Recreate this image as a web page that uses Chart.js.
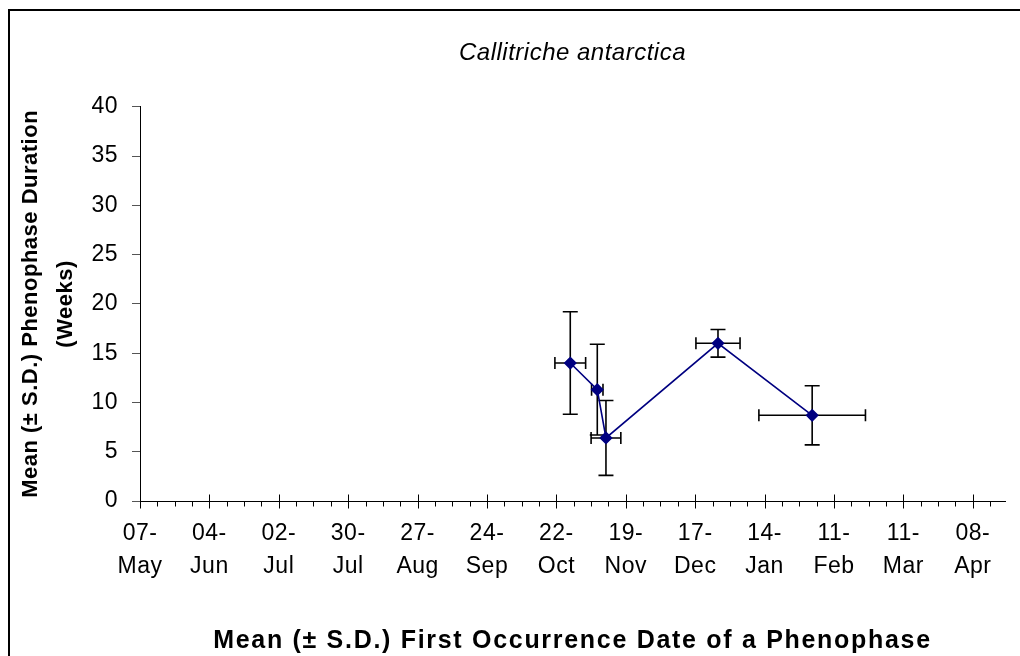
<!DOCTYPE html>
<html>
<head>
<meta charset="utf-8">
<script src="https://cdn.jsdelivr.net/npm/chart.js@4.4.1/dist/chart.umd.min.js"></script>
<style>
  html, body { margin: 0; padding: 0; background: #fff; }
</style>
</head>
<body>
<canvas id="myChart" width="1020" height="656"></canvas>
<script>
// x values are days after 07-May, y values are weeks
const tickDays = [0, 28, 56, 84, 112, 140, 168, 196, 224, 252, 280, 308, 336];
const tickLabels = [
  ['07-', 'May'], ['04-', 'Jun'], ['02-', 'Jul'], ['30-', 'Jul'], ['27-', 'Aug'],
  ['24-', 'Sep'], ['22-', 'Oct'], ['19-', 'Nov'], ['17-', 'Dec'], ['14-', 'Jan'],
  ['11-', 'Feb'], ['11-', 'Mar'], ['08-', 'Apr']
];
const meanDay = [173.6, 184.5, 188.0, 233.2, 271.2];
const sdDay = [6.2, 2.3, 6.0, 8.9, 21.5];
const meanWeeks = [14.0, 11.3, 6.4, 16.0, 8.7];
const sdWeeks = [5.2, 4.6, 3.8, 1.4, 3.0];

const FONT = "'Liberation Sans', Arial, sans-serif";

// white page with the frame line top and left
const frame = {
  id: 'frame',
  beforeDraw(chart) {
    const ctx = chart.ctx;
    ctx.save();
    ctx.fillStyle = '#fff';
    ctx.fillRect(0, 0, chart.width, chart.height);
    ctx.strokeStyle = '#000';
    ctx.lineWidth = 2;
    ctx.beginPath();
    ctx.moveTo(9, chart.height);
    ctx.lineTo(9, 10);
    ctx.lineTo(chart.width, 10);
    ctx.stroke();
    ctx.restore();
  }
};

// slight letter spacing; the x axis title (drawn after the datasets) gets more
const spacing = {
  id: 'spacing',
  beforeLayout(chart) { chart.ctx.letterSpacing = '0.5px'; },
  beforeDraw(chart) { chart.ctx.letterSpacing = '0.5px'; },
  afterDatasetsDraw(chart) { chart.ctx.letterSpacing = '1.7px'; },
  afterDraw(chart) { chart.ctx.letterSpacing = '0.5px'; }
};

// weekly tick marks on the date axis, long ones every 4 weeks
const weekTicks = {
  id: 'weekTicks',
  afterDraw(chart) {
    const {ctx, scales: {x, y}} = chart;
    const axisY = Math.round(y.getPixelForValue(0)) + 0.5;
    ctx.save();
    ctx.strokeStyle = '#000';
    ctx.lineWidth = 1;
    ctx.beginPath();
    tickDays.forEach(d => {
      [0, 7, 14, 21].forEach(k => {
        const v = d + k;
        if (v > x.max) return;
        const px = Math.round(x.getPixelForValue(v)) + 0.5;
        if (k === 0) {
          ctx.moveTo(px, axisY - 7);
          ctx.lineTo(px, axisY + 7);
        } else {
          ctx.moveTo(px, axisY);
          ctx.lineTo(px, axisY + 5);
        }
      });
    });
    ctx.stroke();
    ctx.restore();
  }
};

// +/- S.D. bars in both directions
const errorBars = {
  id: 'errorBars',
  beforeDatasetsDraw(chart) {
    const {ctx, scales: {x, y}} = chart;
    ctx.save();
    ctx.strokeStyle = '#000';
    ctx.lineWidth = 1.6;
    meanDay.forEach((d, i) => {
      const px = x.getPixelForValue(d);
      const py = y.getPixelForValue(meanWeeks[i]);
      const x0 = x.getPixelForValue(d - sdDay[i]);
      const x1 = x.getPixelForValue(d + sdDay[i]);
      const y0 = y.getPixelForValue(meanWeeks[i] - sdWeeks[i]);
      const y1 = y.getPixelForValue(meanWeeks[i] + sdWeeks[i]);
      ctx.beginPath();
      ctx.moveTo(x0, py); ctx.lineTo(x1, py);
      ctx.moveTo(x0, py - 6); ctx.lineTo(x0, py + 6);
      ctx.moveTo(x1, py - 6); ctx.lineTo(x1, py + 6);
      ctx.moveTo(px, y0); ctx.lineTo(px, y1);
      ctx.moveTo(px - 7.5, y0); ctx.lineTo(px + 7.5, y0);
      ctx.moveTo(px - 7.5, y1); ctx.lineTo(px + 7.5, y1);
      ctx.stroke();
    });
    ctx.restore();
  }
};

const ctx = document.getElementById('myChart').getContext('2d');
const myChart = new Chart(ctx, {
  type: 'scatter',
  data: {
    datasets: [{
      data: meanDay.map((d, i) => ({x: d, y: meanWeeks[i]})),
      showLine: true,
      borderColor: '#000080',
      borderWidth: 1.6,
      pointStyle: 'rectRot',
      pointRadius: 5.5,
      pointBackgroundColor: '#000080',
      pointBorderColor: '#000080'
    }]
  },
  options: {
    responsive: false,
    animation: false,
    layout: { padding: { left: 0, right: 15, top: 0, bottom: 0 } },
    plugins: {
      legend: { display: false },
      tooltip: { enabled: false },
      title: {
        display: true,
        fullSize: false,
        text: 'Callitriche antarctica',
        color: '#000',
        font: { family: FONT, size: 24, style: 'italic', weight: 'normal', lineHeight: 1.2 },
        padding: { top: 39, bottom: 39 }
      }
    },
    scales: {
      x: {
        type: 'linear',
        min: 0,
        max: 349,
        afterBuildTicks: scale => { scale.ticks = tickDays.map(v => ({value: v})); },
        afterFit: scale => { scale.height = 155; },
        grid: { display: false, z: 1 },
        border: { display: true, color: '#000', width: 1, z: 1 },
        ticks: {
          color: '#000',
          padding: 9,
          maxRotation: 0,
          autoSkip: false,
          font: { family: FONT, size: 23, lineHeight: 1.4 },
          callback: (v) => tickLabels[tickDays.indexOf(v)]
        },
        title: {
          display: true,
          text: 'Mean (\u00b1 S.D.) First Occurrence Date of a Phenophase',
          color: '#000',
          font: { family: FONT, size: 25, weight: 'bold', lineHeight: 1.2 },
          padding: { top: 0, bottom: 0 }
        }
      },
      y: {
        min: 0,
        max: 40,
        afterFit: scale => { scale.width = 140; },
        grid: { drawOnChartArea: false, drawTicks: true, tickLength: 8, tickColor: '#555', tickWidth: 1 },
        border: { display: true, color: '#000', width: 1 },
        ticks: {
          stepSize: 5,
          color: '#000',
          padding: 14,
          font: { family: FONT, size: 23 }
        },
        title: {
          display: true,
          text: ['Mean (\u00b1 S.D.) Phenophase Duration', '(Weeks)'],
          color: '#000',
          font: { family: FONT, size: 22, weight: 'bold', lineHeight: 1.57 },
          padding: { top: 14, bottom: 0 }
        }
      }
    }
  },
  plugins: [frame, spacing, weekTicks, errorBars]
});
</script>
</body>
</html>
